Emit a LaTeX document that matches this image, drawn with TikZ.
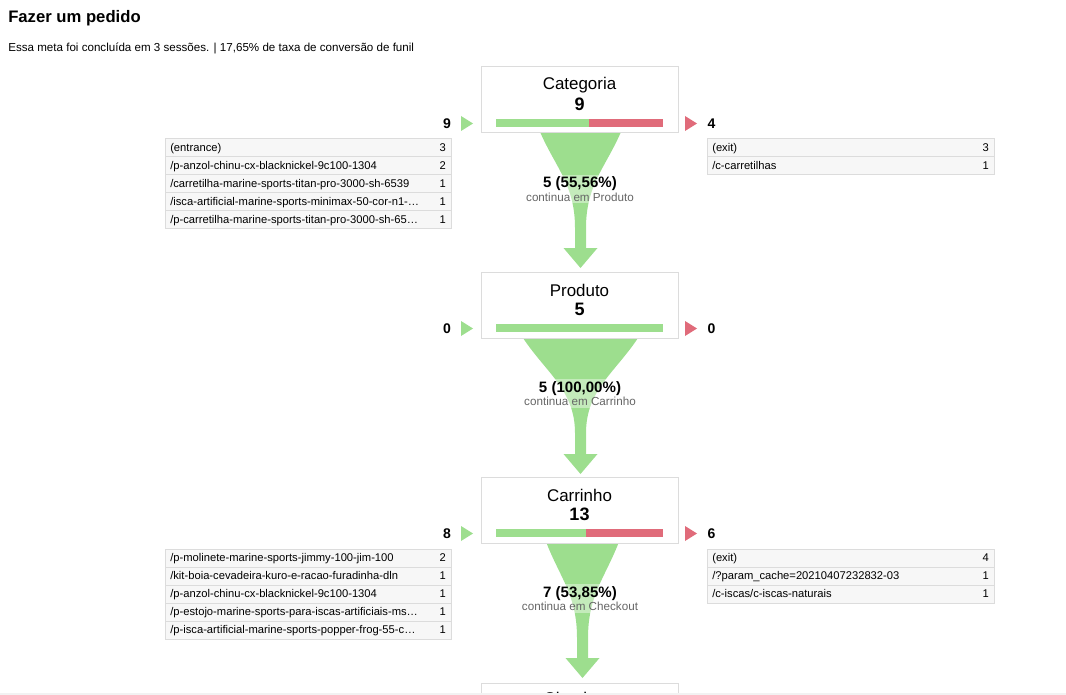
\documentclass[tikz,border=0pt]{standalone}
\usepackage{fontspec}
\setmainfont{Liberation Sans}
\definecolor{fgreen}{HTML}{9DDE8E}
\definecolor{fred}{HTML}{E06B7A}
\definecolor{bordergray}{HTML}{DCDCDC}
\definecolor{rowbg}{HTML}{F7F7F7}
\definecolor{subgray}{HTML}{666666}
\definecolor{stripgray}{HTML}{F2F2F2}
\newcommand{\fpx}[1]{\fontsize{#1pt}{#1pt}\selectfont}
% funnel: cx, top y, top half width, arrow base y
\newcommand{\funnelshape}[4]{%
  \pgfmathsetmacro{\fa}{#1-#3}\pgfmathsetmacro{\fb}{#1+#3}%
  \pgfmathsetmacro{\fsl}{#1-5.5}\pgfmathsetmacro{\fsr}{#1+5.5}%
  \pgfmathsetmacro{\fcl}{\fa+0.45*(\fsl-\fa)}\pgfmathsetmacro{\fcr}{\fb-0.45*(\fb-\fsr)}%
  \pgfmathsetmacro{\fya}{#2+0.37*95}\pgfmathsetmacro{\fyb}{#2+0.55*95}\pgfmathsetmacro{\fyc}{#2+95}%
  \pgfmathsetmacro{\fal}{#1-17}\pgfmathsetmacro{\far}{#1+17}\pgfmathsetmacro{\ftip}{#4+20}%
  \fill[fgreen] (\fa,#2) .. controls (\fcl,\fya) and (\fsl,\fyb) .. (\fsl,\fyc)
    -- (\fsl,#4) -- (\fal,#4) -- (#1,\ftip) -- (\far,#4) -- (\fsr,#4) -- (\fsr,\fyc)
    .. controls (\fsr,\fyb) and (\fcr,\fya) .. (\fb,#2) -- cycle;}
% table row: left x, right x, top y, name, text, value
\newcommand{\tablerow}[6]{%
  \draw[rowcell] (#1,#3) rectangle (#2,#3+18);
  \node[rowtxt] (#4) at (#1+5,#3+12.7) {#5};
  \node[rowval] (#4v) at (#2-5,#3+12.7) {#6};}
\begin{document}
\begin{tikzpicture}[x=0.75pt,y=-0.75pt,
  stepbox/.style={draw=bordergray,line width=0.75pt,fill=white},
  rowcell/.style={draw=bordergray,line width=0.75pt,fill=rowbg},
  rowtxt/.style={anchor=base west,inner sep=0pt,font=\fpx{8.4}},
  rowval/.style={anchor=base east,inner sep=0pt,font=\fpx{8.4}},
  boxtitle/.style={inner sep=0pt,font=\fpx{12.7}},
  boxnum/.style={inner sep=0pt,font=\fpx{13.5}\bfseries},
  sidenum/.style={inner sep=0pt,font=\fpx{10.5}\bfseries},
  flabel/.style={align=center,inner xsep=1pt,inner ysep=1.5pt,fill=white,fill opacity=0.4,text opacity=1},
  intri/.style={fill=fgreen},
  outtri/.style={fill=fred}]
\useasboundingbox (0,0) rectangle (1066,695);
\clip (0,0) rectangle (1066,695);

% heading
\node[anchor=west,inner sep=0pt,font=\fpx{12.5}\bfseries] (title) at (8,18) {Fazer um pedido};
\node[anchor=west,inner sep=0pt,font=\fpx{8.7}] (subtitle) at (8,48.5) {Essa meta foi concluída em 3 sessões. | 17,65\% de taxa de conversão de funil};

% funnels
\funnelshape{580.5}{133}{40}{248}
\funnelshape{580.5}{338}{57.5}{454}
\funnelshape{582.5}{543}{36}{658}

% funnel labels
\node[flabel] (lab1) at (580,189) {{\fpx{11.3}\bfseries 5 (55,56\%)}\\[-2pt]{\fpx{8.75}\color{subgray}continua em Produto}};
\node[flabel] (lab2) at (580,393.5) {{\fpx{11.3}\bfseries 5 (100,00\%)}\\[-2pt]{\fpx{8.75}\color{subgray}continua em Carrinho}};
\node[flabel] (lab3) at (580,598.5) {{\fpx{11.3}\bfseries 7 (53,85\%)}\\[-2pt]{\fpx{8.75}\color{subgray}continua em Checkout}};

% step boxes
\draw[stepbox] (481,67) rectangle (678,133);
\node[boxtitle] (cat) at (579.5,85.5) {Categoria};
\node[boxnum] (catn) at (579.5,104) {9};
\fill[fgreen] (496,119) rectangle (589,127);
\fill[fred] (589,119) rectangle (663,127);

\draw[stepbox] (481,272) rectangle (678,338);
\node[boxtitle] (prod) at (579.5,290.5) {Produto};
\node[boxnum] (prodn) at (579.5,309) {5};
\fill[fgreen] (496,324) rectangle (663,332);

\draw[stepbox] (481,477) rectangle (678,543);
\node[boxtitle] (carr) at (579.5,495.5) {Carrinho};
\node[boxnum] (carrn) at (579.5,514) {13};
\fill[fgreen] (496,529) rectangle (586,537);
\fill[fred] (586,529) rectangle (663,537);

\draw[stepbox] (481,683) rectangle (678,740);
\node[boxtitle] (check) at (579.5,698.5) {Checkout};

% side arrows and numbers
\foreach \yy/\ni/\no [count=\k] in {123.5/9/4, 328.5/0/0, 533.5/8/6}{
  \fill[intri] (461,\yy-7.5) -- (473,\yy) -- (461,\yy+7.5) -- cycle;
  \fill[outtri] (685,\yy-7.5) -- (697,\yy) -- (685,\yy+7.5) -- cycle;
  \node[sidenum] (in\k) at (447,\yy) {\ni};
  \node[sidenum] (out\k) at (711.5,\yy) {\no};
}

% tables
\tablerow{165}{451}{139}{ea0}{(entrance)}{3}
\tablerow{165}{451}{157}{ea1}{/p-anzol-chinu-cx-blacknickel-9c100-1304}{2}
\tablerow{165}{451}{175}{ea2}{/carretilha-marine-sports-titan-pro-3000-sh-6539}{1}
\tablerow{165}{451}{193}{ea3}{/isca-artificial-marine-sports-minimax-50-cor-n1-…}{1}
\tablerow{165}{451}{211}{ea4}{/p-carretilha-marine-sports-titan-pro-3000-sh-65…}{1}

\tablerow{707}{994}{139}{xa0}{(exit)}{3}
\tablerow{707}{994}{157}{xa1}{/c-carretilhas}{1}

\tablerow{165}{451}{549}{ec0}{/p-molinete-marine-sports-jimmy-100-jim-100}{2}
\tablerow{165}{451}{567}{ec1}{/kit-boia-cevadeira-kuro-e-racao-furadinha-dln}{1}
\tablerow{165}{451}{585}{ec2}{/p-anzol-chinu-cx-blacknickel-9c100-1304}{1}
\tablerow{165}{451}{603}{ec3}{/p-estojo-marine-sports-para-iscas-artificiais-ms…}{1}
\tablerow{165}{451}{621}{ec4}{/p-isca-artificial-marine-sports-popper-frog-55-c…}{1}

\tablerow{707}{994}{549}{xc0}{(exit)}{4}
\tablerow{707}{994}{567}{xc1}{/?param\_cache=20210407232832-03}{1}
\tablerow{707}{994}{585}{xc2}{/c-iscas/c-iscas-naturais}{1}

% bottom strip
\fill[stripgray] (0,692.5) rectangle (1066,695);
\end{tikzpicture}
\end{document}
